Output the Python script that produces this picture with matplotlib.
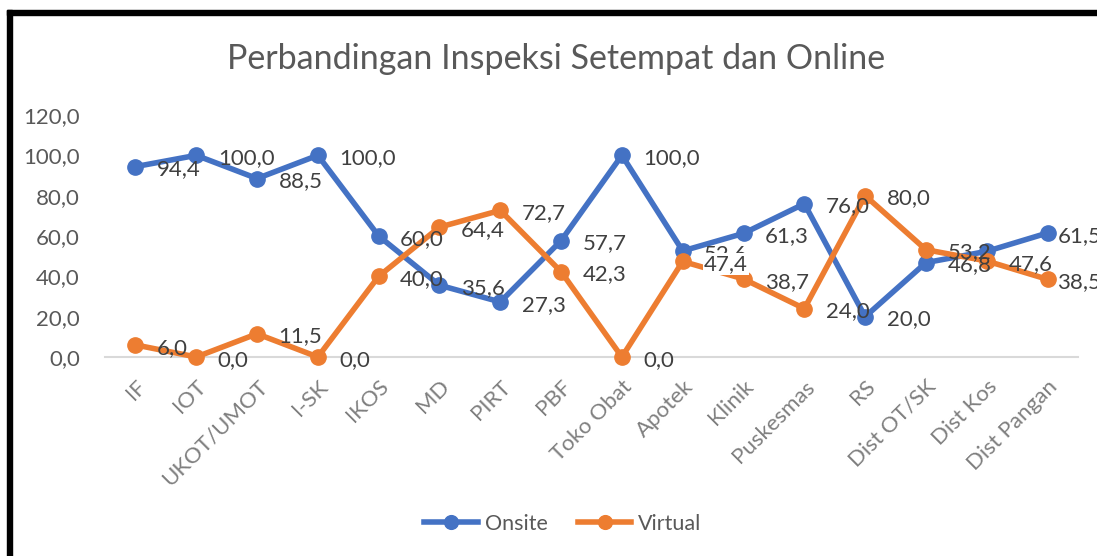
import matplotlib
matplotlib.use("Agg")
import matplotlib.pyplot as plt
from matplotlib.patches import Rectangle

categories = ["IF", "IOT", "UKOT/UMOT", "I-SK", "IKOS", "MD", "PIRT", "PBF",
              "Toko Obat", "Apotek", "Klinik", "Puskesmas", "RS", "Dist OT/SK",
              "Dist Kos", "Dist Pangan"]
onsite = [94.4, 100.0, 88.5, 100.0, 60.0, 35.6, 27.3, 57.7,
          100.0, 52.6, 61.3, 76.0, 20.0, 46.8, 52.4, 61.5]
virtual = [6.0, 0.0, 11.5, 0.0, 40.0, 64.4, 72.7, 42.3,
           0.0, 47.4, 38.7, 24.0, 80.0, 53.2, 47.6, 38.5]
yticks = [0, 20, 40, 60, 80, 100, 120]

title = "Perbandingan Inspeksi Setempat dan Online"
blue = "#4472C4"
orange = "#ED7D31"
FONT = "Lato"

W, H = 1097, 556
fig = plt.figure(figsize=(W / 100, H / 100), dpi=100)
fig.patch.set_facecolor("white")

# black frame (top and left)
fig.patches.append(Rectangle((7 / W, 1 - 15 / H), 1, 5 / H, transform=fig.transFigure,
                             color="black", zorder=10))
fig.patches.append(Rectangle((7 / W, 0), 5 / W, 1 - 10 / H, transform=fig.transFigure,
                             color="black", zorder=10))

left, right = 105, 1078
y0, y120 = 357, 115
ax = fig.add_axes([left / W, 1 - y0 / H, (right - left) / W, (y0 - y120) / H])
x = list(range(len(categories)))

ax.plot(x, onsite, color=blue, lw=4, marker="o", ms=11, clip_on=False, zorder=3,
        label="Onsite", solid_joinstyle="round")
ax.plot(x, virtual, color=orange, lw=4, marker="o", ms=11, clip_on=False, zorder=3,
        label="Virtual", solid_joinstyle="round")

ax.set_xlim(-0.5, len(categories) - 0.5)
ax.set_ylim(0, 120)
ax.set_yticks(yticks)
ax.set_yticklabels([f"{v:.1f}".replace(".", ",") for v in yticks],
                   fontsize=16, color="#595959", family=FONT)
ax.set_xticks(x)
ax.set_xticklabels(categories, rotation=45, ha="right", rotation_mode="anchor",
                   fontsize=16, color="#7F7F7F", family=FONT)
ax.tick_params(axis="both", length=0)
ax.tick_params(axis="y", pad=18)
ax.tick_params(axis="x", pad=14)
for s in ["top", "right", "left"]:
    ax.spines[s].set_visible(False)
ax.spines["bottom"].set_color("#D9D9D9")
ax.spines["bottom"].set_linewidth(1.5)


def fmt(v):
    return f"{v:.1f}".replace(".", ",")


def offset(i):
    return 7 if i == len(categories) - 1 else 15.5


skip_onsite = {14}
for i, v in enumerate(onsite):
    if i in skip_onsite:
        continue
    ax.annotate(fmt(v), (i, v), xytext=(offset(i), -2), textcoords="offset points",
                ha="left", va="center", fontsize=16, color="#404040",
                family=FONT, zorder=5, annotation_clip=False)
for i, v in enumerate(virtual):
    kw = {}
    if i == 9:
        kw = dict(bbox=dict(boxstyle="square,pad=0.05", fc="white", ec="none"))
    ax.annotate(fmt(v), (i, v), xytext=(offset(i), -2), textcoords="offset points",
                ha="left", va="center", fontsize=16, color="#404040",
                family=FONT, zorder=6, annotation_clip=False, **kw)

fig.text(0.507, 1 - 59 / H, title, ha="center", va="center",
         fontsize=24.5, color="#595959", family=FONT)

fig.legend(loc="center", bbox_to_anchor=(0.513, 1 - 524 / H), ncol=2, frameon=False,
           prop={"family": FONT, "size": 15.5}, labelcolor="#595959",
           handlelength=2.5, handletextpad=0.3, columnspacing=1.4, markerscale=0.9)

fig.savefig("out.png", dpi=100, facecolor="white")
